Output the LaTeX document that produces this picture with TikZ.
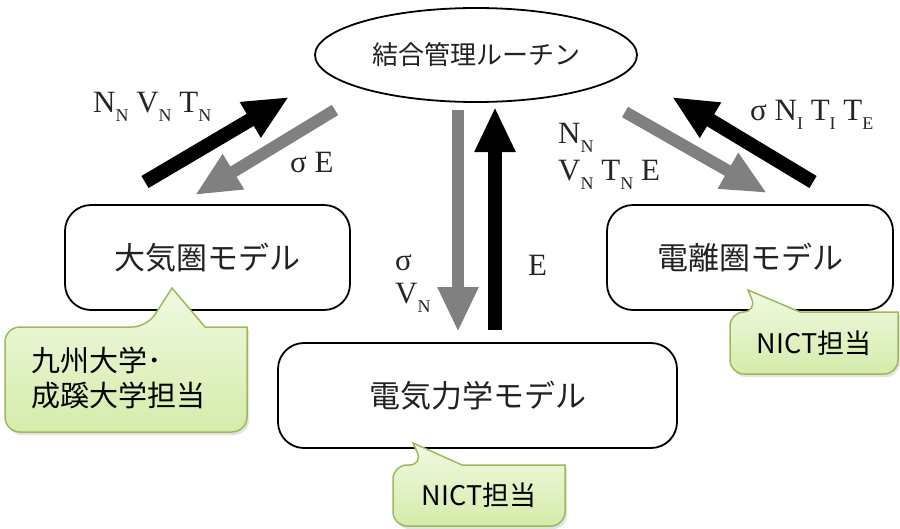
\documentclass[tikz,border=0pt]{standalone}
\usepackage{fontspec}
\setmainfont{Liberation Serif}
\newfontfamily\jp{Noto Sans CJK JP}
\usetikzlibrary{arrows.meta,shadows,shapes.geometric}
\definecolor{cborder}{HTML}{9BBB59}
\definecolor{ctop}{HTML}{F1F9E2}
\definecolor{cbot}{HTML}{D4ECAA}
\definecolor{agray}{HTML}{808080}
\definecolor{jtext}{HTML}{222222}
\newcommand{\sbs}[1]{\raisebox{-9pt}{\fontsize{18}{18}\selectfont #1}}
\begin{document}
\begin{tikzpicture}[x=1pt,y=-1pt,
  mbox/.style={draw, line width=1.8pt, rounded corners=26pt, inner sep=0pt,
    font=\jp\fontsize{31}{36}\selectfont, text=jtext},
  callout/.style={draw=cborder, line width=1.5pt, top color=ctop, bottom color=cbot,
    drop shadow={opacity=0.22, shadow xshift=2pt, shadow yshift=-3pt}},
  ctext/.style={inner sep=0pt, font=\jp\fontsize{29}{35}\selectfont, text=black},
  lbl/.style={inner sep=0pt, font=\fontsize{31}{34}\selectfont, text=black!85},
  blk/.style={line width=14pt, black, -{Triangle[width=38pt,length=45pt]}},
  gry/.style={line width=12pt, agray, -{Triangle[width=38pt,length=45pt]}}]
\useasboundingbox (0,0) rectangle (900,528);

% main nodes
\node[draw, ellipse, line width=1.8pt, minimum width=322pt, minimum height=94pt, inner sep=0pt,
  font=\jp\fontsize{26}{30}\selectfont, text=jtext] (ctl) at (476,55) {結合管理ルーチン};
\node[mbox, minimum width=285pt, minimum height=105pt] (atm) at (207.5,257.5) {大気圏モデル};
\node[mbox, minimum width=286pt, minimum height=105pt] (ion) at (750,257.5) {電離圏モデル};
\node[mbox, minimum width=399pt, minimum height=105pt] (ele) at (477.5,395.5) {電気力学モデル};

% arrow end points
\coordinate (a1s) at (145,182); \coordinate (a1e) at (289,97);
\coordinate (a2s) at (335,110); \coordinate (a2e) at (195,195);
\coordinate (a3s) at (625,112); \coordinate (a3e) at (767,193);
\coordinate (a4s) at (813,182); \coordinate (a4e) at (672,97);
\coordinate (a5s) at (458,110); \coordinate (a5e) at (458,332);
\coordinate (a6s) at (495,330); \coordinate (a6e) at (495,107);

\draw[blk] (a1s) -- (a1e);
\draw[gry] (a2s) -- (a2e);
\draw[gry] (a3s) -- (a3e);
\draw[blk] (a4s) -- (a4e);
\draw[gry] (a5s) -- (a5e);
\draw[blk] (a6s) -- (a6e);

% labels
\node[lbl, anchor=base west] (l1) at (93,112) {N\sbs{N} V\sbs{N} T\sbs{N}};
\node[lbl, anchor=base west] (l2) at (290,172) {σ E};
\node[lbl, anchor=base west] (l3) at (558,143) {N\sbs{N}};
\node[lbl, anchor=base west] (l4) at (558,180) {V\sbs{N} T\sbs{N} E};
\node[lbl, anchor=base west] (l5) at (750,120) {σ N\sbs{I} T\sbs{I} T\sbs{E}};
\node[lbl, anchor=base west] (l6) at (395,270) {σ};
\node[lbl, anchor=base west] (l7) at (395,303) {V\sbs{N}};
\node[lbl, anchor=base west] (l8) at (528,275) {E};

% callouts
\path[callout] (5,380) [rounded corners=15pt] -- (5,327) -- (147,327) [sharp corners] -- (172,288)
  -- (205,327) -- (247,327) [rounded corners=15pt] -- (247,432) -- (5,432) -- cycle;
\node[ctext, anchor=west, align=left] (c1) at (31,378) {九州大学･\\成蹊大学担当};

\path[callout] (730,343) [rounded corners=14pt] -- (730,312) -- (757,312) [sharp corners] -- (748,290)
  -- (800,312) -- (898,312) [rounded corners=14pt] -- (898,374) -- (730,374) -- cycle;
\node[ctext, font=\jp\fontsize{27}{32}\selectfont] (c2) at (814,343) {NICT担当};

\path[callout] (393,496) [rounded corners=14pt] -- (393,465) -- (423,465) [sharp corners] -- (413,443)
  -- (462,465) -- (565,465) [rounded corners=14pt] -- (565,526) -- (393,526) -- cycle;
\node[ctext, font=\jp\fontsize{27}{32}\selectfont] (c3) at (479,495) {NICT担当};
\end{tikzpicture}
\end{document}
